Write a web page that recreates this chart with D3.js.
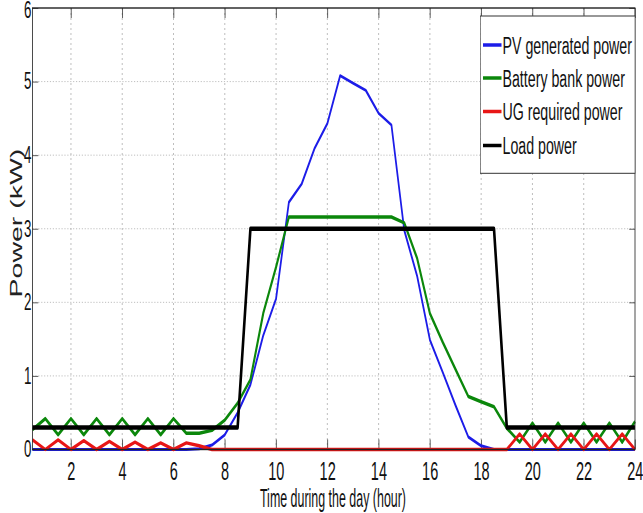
<!DOCTYPE html>
<html><head><meta charset="utf-8">
<script src="https://cdn.jsdelivr.net/npm/d3@7"></script>
<style>html,body{margin:0;padding:0;background:#fff;} svg{display:block;}</style>
</head><body>
<svg id="chart" width="643" height="513"></svg>
<script>
// ---- data (hours of the day, kW) ----
const hours = [0.5,1,1.5,2,2.5,3,3.5,4,4.5,5,5.5,6,6.5,7,7.5,8,8.5,9,9.5,10,10.5,11,11.5,12,
               12.5,13,13.5,14,14.5,15,15.5,16,16.5,17,17.5,18,18.5,19,19.5,20,20.5,21,21.5,22,22.5,23,23.5,24];
const pvPower = [0,0,0,0,0,0,0,0,0,0,0,0,0,0.01,0.06,0.2,0.5,0.88,1.55,2.05,3.36,3.61,4.09,4.43,
                 5.08,4.98,4.88,4.57,4.41,2.98,2.36,1.49,1.05,0.6,0.17,0.05,0,0,0,0,0,0,0,0,0,0,0,0];
const batteryPower = [0.27,0.42,0.2,0.42,0.2,0.42,0.2,0.42,0.2,0.42,0.2,0.42,0.22,0.22,0.26,0.4,0.63,0.95,1.85,2.48,3.16,3.16,3.16,3.16,
                      3.16,3.16,3.16,3.16,3.16,3.08,2.6,1.85,1.46,1.09,0.72,0.65,0.58,0.29,0.1,0.36,0.1,0.36,0.1,0.36,0.1,0.36,0.1,0.38];
const ugPower = [0.13,0,0.13,0,0.12,0,0.11,0,0.1,0,0.09,0,0.09,0.05,0,0,0,0,0,0,0,0,0,0,
                 0,0,0,0,0,0,0,0,0,0,0,0,0,0,0.21,0,0.21,0,0.21,0,0.21,0,0.21,0];
const loadPower = [0.3,0.3,0.3,0.3,0.3,0.3,0.3,0.3,0.3,0.3,0.3,0.3,0.3,0.3,0.3,0.3,0.3,3,3,3,3,3,3,3,
                   3,3,3,3,3,3,3,3,3,3,3,3,3,0.3,0.3,0.3,0.3,0.3,0.3,0.3,0.3,0.3,0.3,0.3];
const xTicks = [2,4,6,8,10,12,14,16,18,20,22,24];
const yTicks = [0,1,2,3,4,5,6];
const seriesNames = ["PV generated power","Battery bank power","UG required power","Load power"];
const seriesColors = ["#1c1ce8","#0b870b","#e81616","#000000"];
const seriesWidths = [3,3.5,3.5,4.5];
const xLabel = "Time during the day (hour)";
const yLabel = "Power (kW)";

// ---- drawing (whole figure horizontally compressed like the source image) ----
const SX = 0.58;
const FONT = "'Liberation Sans', Arial, Helvetica, sans-serif";
const v = px => px / SX;
const svg = d3.select("#chart");
svg.append("rect").attr("width",643).attr("height",513).attr("fill","#fff");
const g = svg.append("g").attr("transform",`scale(${SX},1)`);
const plot = {left: v(32.5), right: v(635), top: 8, bottom: 449.5};
const x = d3.scaleLinear().domain([0.5,24]).range([plot.left, plot.right]);
const y = d3.scaleLinear().domain([0,6]).range([plot.bottom, plot.top]);

// grid
const grid = g.append("g").attr("stroke","#adadad").attr("stroke-width",1).attr("stroke-dasharray","2,3");
grid.selectAll("line.vx").data(xTicks.filter(t=>t<24)).join("line")
  .attr("x1",d=>x(d)).attr("x2",d=>x(d)).attr("y1",plot.top).attr("y2",plot.bottom);
grid.selectAll("line.hy").data(yTicks.filter(t=>t>0&&t<6)).join("line")
  .attr("x1",plot.left).attr("x2",plot.right).attr("y1",d=>y(d)).attr("y2",d=>y(d));

// axes
const styleAxis = sel => {
  sel.select(".domain").remove();
  sel.selectAll(".tick line").attr("stroke","#333");
  sel.selectAll(".tick text").attr("font-family",FONT).attr("fill","#111");
};
g.append("g").attr("transform",`translate(0,${plot.bottom})`)
  .call(d3.axisBottom(x).tickValues(xTicks).tickSizeInner(-10).tickSizeOuter(0).tickPadding(12.5).tickFormat(d3.format("d")))
  .call(styleAxis).selectAll("text").attr("font-size",25);
g.append("g").attr("transform",`translate(0,${plot.top})`)
  .call(d3.axisTop(x).tickValues(xTicks).tickSizeInner(-10).tickSizeOuter(0).tickFormat(""))
  .call(styleAxis);
const yAxisG = g.append("g").attr("transform",`translate(${plot.left},0)`)
  .call(d3.axisLeft(y).tickValues(yTicks).tickSizeInner(-10).tickSizeOuter(0).tickPadding(2).tickFormat(d3.format("d")))
  .call(styleAxis);
yAxisG.selectAll("text").attr("font-size",23)
  .attr("dy",d=>d===6 ? "0.42em" : "0.32em");
g.append("g").attr("transform",`translate(${plot.right},0)`)
  .call(d3.axisRight(y).tickValues(yTicks).tickSizeInner(-10).tickSizeOuter(0).tickFormat(""))
  .call(styleAxis);

// series
const allSeries = [pvPower, batteryPower, ugPower, loadPower];
const line = d3.line().x((d,i)=>x(hours[i])).y(d=>y(d));
g.append("g").selectAll("path").data(allSeries).join("path")
  .attr("d",line).attr("fill","none")
  .attr("stroke",(d,i)=>seriesColors[i]).attr("stroke-width",(d,i)=>seriesWidths[i])
  .attr("stroke-linejoin","round");

// box
g.append("rect").attr("x",plot.left).attr("y",plot.top)
  .attr("width",plot.right-plot.left).attr("height",plot.bottom-plot.top)
  .attr("fill","none").attr("stroke","#222").attr("stroke-width",1.4);

// axis labels
g.append("text").attr("x",v(333)).attr("y",507).attr("text-anchor","middle")
  .attr("font-family",FONT).attr("font-size",25).attr("fill","#111")
  .attr("textLength",v(146)).attr("lengthAdjust","spacingAndGlyphs").text(xLabel);
g.append("text").attr("transform",`translate(${v(21.5)},223) rotate(-90)`).attr("text-anchor","middle")
  .attr("font-family",FONT).attr("font-size",28.5).attr("fill","#222").text(yLabel);

// legend
const leg = g.append("g");
leg.append("rect").attr("x",v(480.7)).attr("y",16).attr("width",v(635)-v(480.7)).attr("height",157.3)
  .attr("fill","#fff").attr("stroke","#333").attr("stroke-width",1);
const rowY = [45,78,111.5,145.5];
seriesNames.forEach((name,i)=>{
  leg.append("line").attr("x1",v(483)).attr("x2",v(501.5)).attr("y1",rowY[i]).attr("y2",rowY[i])
    .attr("stroke",seriesColors[i]).attr("stroke-width",3.5);
  leg.append("text").attr("x",v(502.5)).attr("y",rowY[i]).attr("dy","0.36em")
    .attr("font-family",FONT).attr("font-size",24.5).attr("fill","#111").text(name);
});
</script>
</body></html>
